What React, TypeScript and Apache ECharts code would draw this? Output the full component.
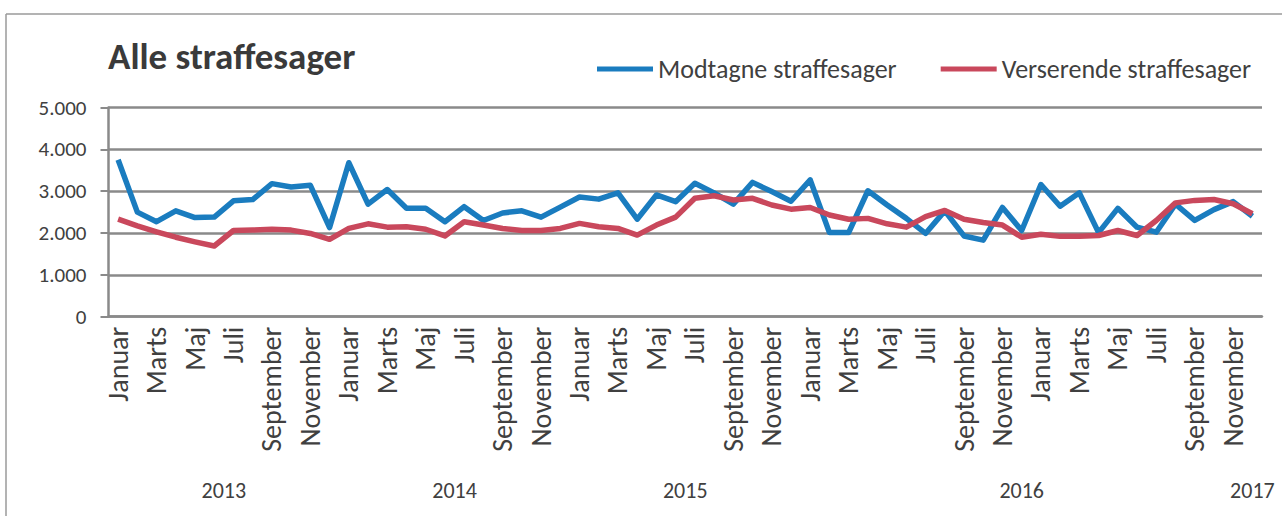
import React, { useEffect, useRef } from 'react';
import * as echarts from 'echarts';

const monthNames = ['Januar', 'Februar', 'Marts', 'April', 'Maj', 'Juni', 'Juli', 'August', 'September', 'Oktober', 'November', 'December'];
const years = ['2013', '2014', '2015', '2016', '2017'];
const categories = years.flatMap((y) => monthNames.map((m) => `${m} ${y}`));

const modtagne = [
  3750, 2500, 2270, 2530, 2370, 2380, 2770, 2800, 3180, 3100, 3140, 2130,
  3680, 2690, 3040, 2590, 2590, 2270, 2630, 2300, 2480, 2530, 2380, 2620,
  2860, 2810, 2960, 2330, 2910, 2750, 3190, 2960, 2690, 3210, 2990, 2760,
  3270, 2010, 2010, 3010, 2670, 2350, 1990, 2530, 1930, 1830, 2610, 2060,
  3160, 2640, 2960, 2010, 2590, 2140, 2020, 2690, 2300, 2560, 2750, 2400,
];
const verserende = [
  2330, 2170, 2030, 1900, 1790, 1690, 2060, 2070, 2090, 2070, 1990, 1850,
  2110, 2220, 2140, 2150, 2090, 1930, 2270, 2190, 2110, 2060, 2060, 2110,
  2230, 2150, 2110, 1950, 2190, 2380, 2830, 2890, 2790, 2830, 2670, 2570,
  2610, 2430, 2330, 2350, 2220, 2140, 2390, 2540, 2330, 2250, 2190, 1900,
  1970, 1920, 1920, 1940, 2060, 1940, 2300, 2720, 2780, 2800, 2700, 2460,
];
// year group labels and the (fractional) category position where each is centred
const yearLabels = ['2013', '2014', '2015', '2016', '2017'];
const yearLabelPos = [5.5, 17.5, 29.5, 47, 59];

const FONT = "Carlito, Calibri, Lato, sans-serif";
const TEXT = '#404040';
const GRID = '#8a8a8a';

export default function App() {
  const ref = useRef<HTMLDivElement>(null);
  useEffect(() => {
    document.body.style.margin = '0';
    const chart = echarts.init(ref.current!, null, { renderer: 'svg' });
    const option: any = {
      animation: false,
      backgroundColor: '#ffffff',
      textStyle: { fontFamily: FONT },
      title: {
        text: 'Alle straffesager',
        left: 103,
        top: 33,
        textStyle: { fontFamily: FONT, fontSize: 37, fontWeight: 'bold', color: '#3a3a3a' },
      },
      legend: {
        left: 592,
        top: 51,
        icon: 'rect',
        itemWidth: 56,
        itemHeight: 5,
        itemGap: 44,
        textStyle: { fontFamily: FONT, fontSize: 26, color: TEXT },
        data: ['Modtagne straffesager', 'Verserende straffesager'],
      },
      grid: { left: 108.5, right: 20, top: 107.5, bottom: 199.3, containLabel: false },
      xAxis: {
        type: 'category',
        data: categories,
        boundaryGap: true,
        axisLine: { lineStyle: { color: GRID, width: 2.5 } },
        axisTick: { show: false },
        axisLabel: {
          interval: 1,
          rotate: 90,
          margin: 10,
          fontFamily: FONT,
          fontSize: 28,
          color: TEXT,
          formatter: (v: string) => v.split(' ')[0],
        },
      },
      yAxis: {
        type: 'value',
        min: 0,
        max: 5000,
        interval: 1000,
        axisLine: { show: true, lineStyle: { color: GRID, width: 2.5 } },
        axisTick: { show: true, length: 8, lineStyle: { color: GRID, width: 2 } },
        splitLine: { lineStyle: { color: GRID, width: 2.5 } },
        axisLabel: {
          margin: 22,
          fontFamily: FONT,
          fontSize: 21,
          color: TEXT,
          formatter: (v: number) => String(v).replace(/\B(?=(\d{3})+(?!\d))/g, '.'),
        },
      },
      series: [
        {
          name: 'Modtagne straffesager',
          type: 'line',
          data: modtagne,
          symbol: 'none',
          color: '#1a7cbf',
          lineStyle: { width: 5.5, color: '#1a7cbf', join: 'round' },
        },
        {
          name: 'Verserende straffesager',
          type: 'line',
          data: verserende,
          symbol: 'none',
          color: '#c9485c',
          lineStyle: { width: 5.5, color: '#c9485c', join: 'round' },
        },
      ],
    };
    chart.setOption(option);

    const px = (pos: number) => {
      const lo = Math.floor(pos);
      const hi = Math.min(Math.ceil(pos), categories.length - 1);
      const a = chart.convertToPixel({ xAxisIndex: 0 }, categories[lo]) as number;
      const b = chart.convertToPixel({ xAxisIndex: 0 }, categories[hi]) as number;
      return a + (b - a) * (pos - lo);
    };
    const graphics: any[] = yearLabels.map((t, i) => ({
      type: 'text',
      x: px(yearLabelPos[i]),
      y: 490,
      style: { text: t, fontFamily: FONT, fontSize: 22, fill: TEXT, align: 'center', verticalAlign: 'middle' },
    }));
    graphics.push(
      { type: 'line', shape: { x1: 6, y1: 14, x2: 1282, y2: 14 }, style: { stroke: '#9a9a9a', lineWidth: 1.5 } },
      { type: 'line', shape: { x1: 6, y1: 14, x2: 6, y2: 516 }, style: { stroke: '#9a9a9a', lineWidth: 1.5 } },
    );
    chart.setOption({ graphic: graphics });
    return () => chart.dispose();
  }, []);
  return <div ref={ref} style={{ position: 'fixed', left: 0, top: 0, width: 1282, height: 516 }} />;
}
